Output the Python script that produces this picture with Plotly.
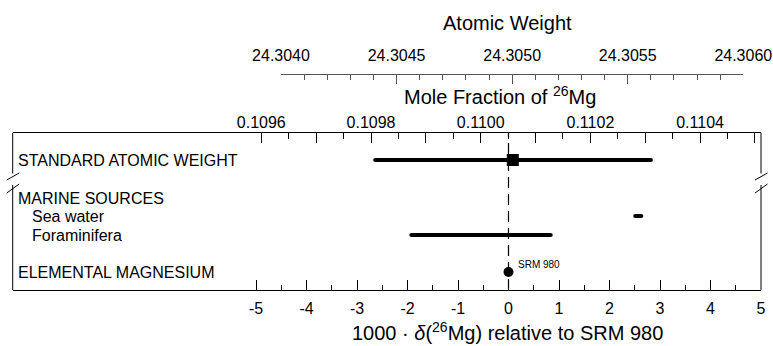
import numpy as np
import plotly.graph_objects as go

# ---------------- data ----------------
rows = ["STANDARD ATOMIC WEIGHT", "MARINE SOURCES", "Sea water", "Foraminifera", "ELEMENTAL MAGNESIUM"]
indent = [False, False, True, True, False]
range_low = [-2.64, None, 2.51, -1.925, None]     # 1000*delta(26Mg) lower end
range_high = [2.82, None, 2.63, 0.836, None]      # upper end
std_value = 0.085                                  # standard atomic weight point
srm_value = 0.0                                    # SRM 980 reference
srm_label = "SRM 980"

delta_ticks = [-5, -4, -3, -2, -1, 0, 1, 2, 3, 4, 5]
delta_minor = [-4.5, -3.5, -2.5, -1.5, -0.5, 0.5, 1.5, 2.5, 3.5, 4.5]
molefrac_major = [0.1096, 0.1097, 0.1098, 0.1099, 0.1100, 0.1101, 0.1102, 0.1103, 0.1104, 0.1105]
molefrac_labels = ["0.1096", " ", "0.1098", " ", "0.1100", " ", "0.1102", " ", "0.1104", " "]
molefrac_minor = [0.10965, 0.10975, 0.10985, 0.10995, 0.11005, 0.11015, 0.11025, 0.11035, 0.11045]
aw_major = [24.3040, 24.3045, 24.3050, 24.3055, 24.3060]
aw_labels = ["24.3040", "24.3045", "24.3050", "24.3055", "24.3060"]
aw_minor = [24.3041, 24.3042, 24.3043, 24.3044, 24.3046, 24.3047, 24.3048, 24.3049,
            24.3051, 24.3052, 24.3053, 24.3054, 24.3056, 24.3057, 24.3058, 24.3059]

# ---------------- layout helpers ----------------
W, H = 773, 346
def px_x(p): return p / W
def px_y(p): return (H - p) / H

row_pos = [130, 92, 74, 55, 18]
FONT = "Arial, Liberation Sans, sans-serif"
box_l, box_r, box_t, box_b = 12.7, 761.0, 132.7, 290.0

fig = go.Figure()

# range bars
for lo, hi, yp in zip(range_low, range_high, row_pos):
    if lo is None:
        continue
    fig.add_trace(go.Scatter(x=[lo, hi], y=[yp, yp], mode="lines+markers",
                             line=dict(color="black", width=4),
                             marker=dict(color="black", size=4, line=dict(width=0)),
                             hoverinfo="skip", showlegend=False))
# standard atomic weight square
fig.add_trace(go.Scatter(x=[std_value], y=[row_pos[0]], mode="markers",
                         marker=dict(symbol="square", size=12, color="black"),
                         showlegend=False))
# SRM 980 dot
fig.add_trace(go.Scatter(x=[srm_value], y=[row_pos[4]], mode="markers",
                         marker=dict(symbol="circle", size=10, color="black"),
                         showlegend=False))
# invisible traces to activate secondary axes
fig.add_trace(go.Scatter(x=[molefrac_major[0]], y=[row_pos[0]], xaxis="x2", mode="markers",
                         marker=dict(opacity=0), showlegend=False, hoverinfo="skip"))
fig.add_trace(go.Scatter(x=[aw_major[0]], y=[row_pos[0]], xaxis="x3", mode="markers",
                         marker=dict(opacity=0), showlegend=False, hoverinfo="skip"))

# axis ranges from pixel geometry
d_per_px = 1 / 50.5
x_range = [(box_l - 508.5) * d_per_px, (box_r - 508.5) * d_per_px]
m_per_px = 1 / 548500
m_range = [0.1100 + (box_l - 480.7) * m_per_px, 0.1100 + (box_r - 480.7) * m_per_px]

tickfont = dict(family=FONT, size=16, color="black")

fig.update_layout(
    width=W, height=H, margin=dict(l=0, r=0, t=0, b=0, autoexpand=False),
    paper_bgcolor="white", plot_bgcolor="rgba(0,0,0,0)",
    font=dict(family=FONT, color="black"),
    xaxis=dict(domain=[px_x(box_l), px_x(box_r)], range=x_range, showgrid=False, zeroline=False,
               showline=True, linecolor="black", linewidth=1,
               tickmode="array", tickvals=delta_ticks, ticktext=[str(v) for v in delta_ticks],
               ticks="inside", ticklen=10, tickwidth=1, tickcolor="black", tickfont=tickfont,
               ticklabelstandoff=4,
               minor=dict(tickmode="array", tickvals=delta_minor, ticks="inside", ticklen=5,
                          tickcolor="black", tickwidth=1, showgrid=False)),
    xaxis2=dict(overlaying="x", anchor="y", side="top", range=m_range, showgrid=False, zeroline=False,
                showline=True, linecolor="black", linewidth=1,
                tickmode="array", tickvals=molefrac_major, ticktext=molefrac_labels,
                ticks="inside", ticklen=10, tickwidth=1, tickcolor="black", tickfont=tickfont,
                ticklabelstandoff=-3,
                minor=dict(tickmode="array", tickvals=molefrac_minor, ticks="inside", ticklen=6,
                           tickcolor="black", tickwidth=1, showgrid=False)),
    xaxis3=dict(domain=[px_x(281), px_x(743.3)], anchor="free", position=px_y(74), side="top",
                range=[aw_major[0], aw_major[-1]], showgrid=False, zeroline=False,
                showline=True, linecolor="#555555", linewidth=1,
                tickmode="array", tickvals=aw_major, ticktext=aw_labels,
                ticks="inside", ticklen=9, tickwidth=1, tickcolor="#555555", tickfont=tickfont,
                ticklabelstandoff=7,
                minor=dict(tickmode="array", tickvals=aw_minor, ticks="inside", ticklen=5,
                           tickcolor="#555555", tickwidth=1, showgrid=False)),
    yaxis=dict(domain=[px_y(box_b), px_y(box_t)], range=[0, box_b - box_t], showgrid=False,
               zeroline=False, showline=False, showticklabels=False, ticks=""),
    showlegend=False,
)

shapes = []
# dashed reference line at delta = 0
shapes.append(dict(type="line", xref="x", yref="y domain", x0=srm_value, x1=srm_value, y0=0, y1=1,
                   line=dict(color="black", width=1.2, dash="11px,6px")))
# left / right borders with break marks
for bx in (box_l, box_r):
    shapes.append(dict(type="line", xref="paper", yref="paper", x0=px_x(bx), x1=px_x(bx),
                       y0=px_y(box_t), y1=px_y(173.5), line=dict(color="black", width=1)))
    shapes.append(dict(type="line", xref="paper", yref="paper", x0=px_x(bx), x1=px_x(bx),
                       y0=px_y(185), y1=px_y(box_b), line=dict(color="black", width=1)))
    for (y_low, y_high) in ((180, 173), (193, 184)):
        shapes.append(dict(type="line", xref="paper", yref="paper",
                           x0=px_x(bx - 6), x1=px_x(bx + 6.5), y0=px_y(y_low), y1=px_y(y_high),
                           line=dict(color="black", width=1)))
fig.update_layout(shapes=shapes)

ann = []
for name, ind, yp in zip(rows, indent, row_pos):
    ann.append(dict(text=name, xref="paper", yref="y", x=px_x(30 if ind else 15.5), y=yp,
                    xanchor="left", yanchor="middle", showarrow=False,
                    font=dict(family=FONT, size=16, color="black")))
ann.append(dict(text=srm_label, xref="x", yref="y", x=srm_value, y=row_pos[4] + 8, xanchor="left",
                yanchor="middle", xshift=7, showarrow=False, font=dict(family=FONT, size=10, color="black")))
ann.append(dict(text="Atomic Weight", xref="paper", yref="paper", x=px_x(507), y=px_y(23),
                xanchor="center", yanchor="middle", showarrow=False,
                font=dict(family=FONT, size=20, color="black")))
ann.append(dict(text="Mole Fraction of <sup>26</sup>Mg", xref="paper", yref="paper", x=px_x(500),
                y=px_y(96), xanchor="center", yanchor="middle", showarrow=False,
                font=dict(family=FONT, size=20, color="black")))
ann.append(dict(text="1000 · <i>δ</i>(<sup>26</sup>Mg) relative to SRM 980", xref="paper", yref="paper",
                x=px_x(507), y=px_y(331), xanchor="center", yanchor="middle", showarrow=False,
                font=dict(family=FONT, size=20, color="black")))
fig.update_layout(annotations=ann)

fig.write_html("out.html")
